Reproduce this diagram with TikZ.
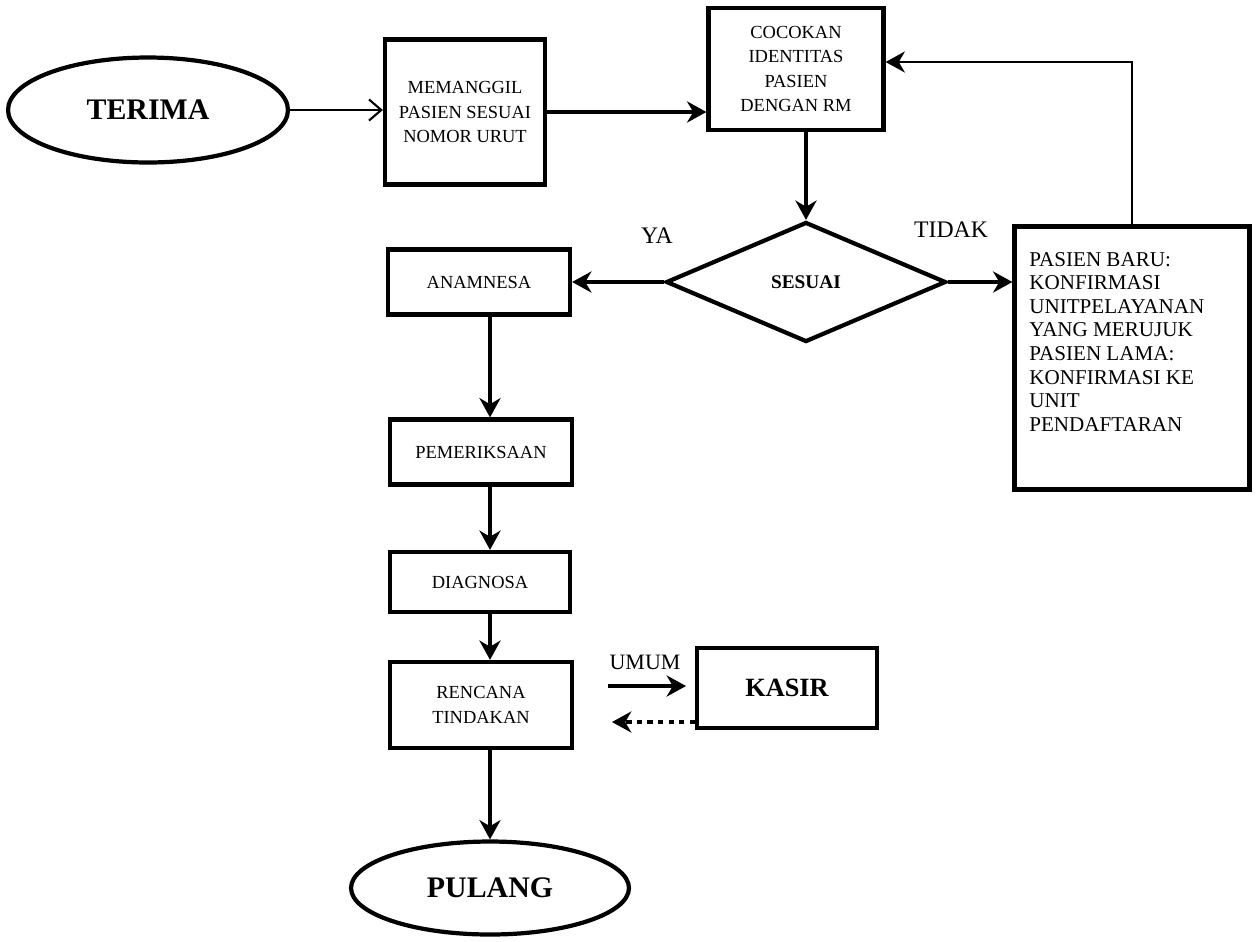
\documentclass[tikz,border=0pt]{standalone}
\usepackage{fontspec}
\setmainfont{Liberation Serif}
\usetikzlibrary{shapes.geometric,arrows.meta}
\begin{document}
\begin{tikzpicture}[x=0.02cm,y=-0.02cm,
  box/.style={draw,line width=2.4pt,rectangle,inner sep=0pt,align=center,
    font=\fontsize{10.5}{14}\selectfont},
  oval/.style={draw,line width=2.4pt,ellipse,inner sep=0pt,
    font=\fontsize{17}{20}\selectfont\bfseries},
  arr/.style={line width=2.4pt,-{Stealth[length=11pt,width=12pt,inset=3.5pt]}},
  thinarr/.style={line width=0.9pt,-{Straight Barb[length=7pt,width=12pt,line width=1.2pt]}},
  lbl/.style={inner sep=0pt,font=\fontsize{13.5}{16}\selectfont}
]
\useasboundingbox (0,0) rectangle (1257,941);
% nodes
\node[oval,minimum width=5.6cm,minimum height=2.1cm] (terima) at (148,110) {TERIMA};
\node[box,minimum width=3.2cm,minimum height=2.9cm] (memanggil) at (465,112)
  {MEMANGGIL\\PASIEN SESUAI\\NOMOR URUT};
\node[box,minimum width=3.5cm,minimum height=2.44cm] (cocokan) at (796,69)
  {COCOKAN\\IDENTITAS\\PASIEN\\DENGAN RM};
\node[draw,line width=2.4pt,diamond,aspect=2.33,minimum width=5.6cm,minimum height=2.4cm,
  inner sep=0pt,font=\fontsize{11}{13}\selectfont\bfseries] (sesuai) at (806,282) {SESUAI};
\node[draw,line width=2.4pt,rectangle,minimum width=4.7cm,minimum height=5.26cm,inner sep=0pt]
  (tidak) at (1132,358) {};
\node[anchor=north west,inner sep=0pt,align=left,font=\fontsize{12}{13.4}\selectfont]
  (tidaktxt) at (1029,252) {PASIEN BARU:\\KONFIRMASI\\UNITPELAYANAN\\YANG MERUJUK\\PASIEN LAMA:\\KONFIRMASI KE\\UNIT\\PENDAFTARAN};
\node[box,minimum width=3.64cm,minimum height=1.3cm] (anamnesa) at (479,282) {ANAMNESA};
\node[box,minimum width=3.64cm,minimum height=1.3cm] (pemeriksaan) at (481,452) {PEMERIKSAAN};
\node[box,minimum width=3.6cm,minimum height=1.2cm] (diagnosa) at (480,582) {DIAGNOSA};
\node[box,minimum width=3.64cm,minimum height=1.72cm] (rencana) at (481,705) {RENCANA\\TINDAKAN};
\node[box,minimum width=3.6cm,minimum height=1.6cm,font=\fontsize{15}{18}\selectfont\bfseries]
  (kasir) at (787,688) {KASIR};
\node[oval,minimum width=5.56cm,minimum height=1.86cm] (pulang) at (490,888) {PULANG};
% labels
\node[lbl] (ya) at (657,236) {YA};
\node[lbl] (tidaklbl) at (951,230) {TIDAK};
\node[lbl,font=\fontsize{12.5}{15}\selectfont] (umum) at (645,662) {UMUM};
% helper coordinates
\coordinate (spine) at (490,0);
\coordinate (loop) at (0,62);
\coordinate (u1) at (608,686);
\coordinate (u2) at (686,686);
\coordinate (d1) at (612,722);
% connectors
\draw[thinarr] (terima.east) -- (memanggil.west |- terima.east);
\draw[arr] (memanggil.east) -- (cocokan.west |- memanggil.east);
\draw[arr] (cocokan.south -| sesuai.north) -- (sesuai.north);
\draw[line width=1.3pt,-{Stealth[length=11pt,width=12pt,inset=3.5pt]}]
  (tidak.north) -- (tidak.north |- loop) -- (cocokan.east |- loop);
\draw[arr] (sesuai.west) -- (anamnesa.east |- sesuai.west);
\draw[arr] (sesuai.east) -- (tidak.west |- sesuai.east);
\draw[arr] (anamnesa.south -| spine) -- (pemeriksaan.north -| spine);
\draw[arr] (pemeriksaan.south -| spine) -- (diagnosa.north -| spine);
\draw[arr] (diagnosa.south -| spine) -- (rencana.north -| spine);
\draw[arr] (rencana.south -| spine) -- (pulang.north -| spine);
\draw[arr] (u1) -- (u2);
\draw[line width=2.6pt,dash pattern=on 3pt off 3pt,-{Stealth[length=11pt,width=12pt,inset=3.5pt]}]
  (kasir.west |- d1) -- (d1);
\end{tikzpicture}
\end{document}
